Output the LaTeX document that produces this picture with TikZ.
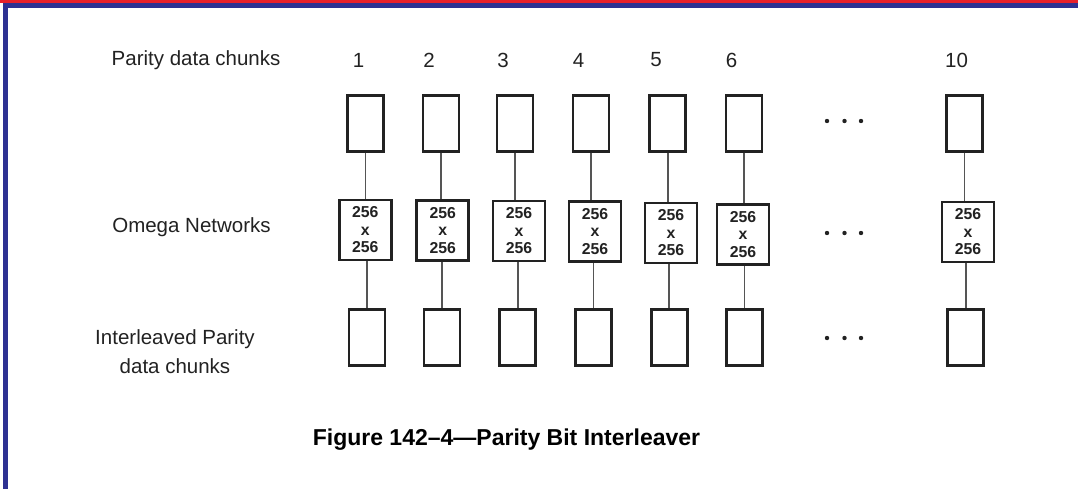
\documentclass[tikz,border=0pt]{standalone}
\usepackage{fontspec}
\setmainfont{Liberation Sans}
\definecolor{framered}{HTML}{E8202A}
\definecolor{frameblue}{HTML}{2E3192}
\definecolor{ink}{HTML}{222222}
\definecolor{wire}{HTML}{555555}
\begin{document}
\begin{tikzpicture}[x=1pt,y=-1pt,
  chunk/.style={draw=ink,line width=2.8pt,minimum width=36pt,minimum height=56pt,inner sep=0pt},
  omega/.style={draw=ink,line width=2.8pt,minimum width=52pt,minimum height=60pt,inner sep=0pt,
    align=center,font=\fontsize{15.8}{17.5}\selectfont\bfseries,text=ink},
  lbl/.style={font=\fontsize{20.5}{29}\selectfont,text=ink,inner sep=0pt},
  num/.style={font=\fontsize{20.5}{24}\selectfont,text=ink,inner sep=0pt},
  wireline/.style={draw=wire,line width=1.6pt},
  dot/.style={fill=ink,draw=none}]
\useasboundingbox (0,0) rectangle (1078,489);
\fill[white] (0,0) rectangle (1078,489);
% frame
\fill[framered] (0,0) rectangle (1078,3.3);
\fill[frameblue] (3.3,3.3) rectangle (1078,8.4);
\fill[frameblue] (3.3,3.3) rectangle (8.4,489);
% row labels
\node[lbl,anchor=west] (lp) at (111.5,60) {Parity data chunks};
\node[lbl] (lo) at (191.5,227) {Omega Networks};
\node[lbl,align=center] (li) at (175,351.5) {Interleaved Parity\\data chunks};
% column numbers
\node[num] (n1) at (358.5,60) {1};
\node[num] (n2) at (429,60) {2};
\node[num] (n3) at (503,60) {3};
\node[num] (n4) at (578.5,60) {4};
\node[num] (n5) at (656,60) {5};
\node[num] (n6) at (731.5,60) {6};
\node[num] (n10) at (956.5,60) {10};
% top chunks
\node[chunk] (t1) at (365.3,123.3) {};
\node[chunk] (t2) at (441,123.3) {};
\node[chunk] (t3) at (515,123.3) {};
\node[chunk] (t4) at (591,123.3) {};
\node[chunk] (t5) at (667.7,123.3) {};
\node[chunk] (t6) at (744,123.3) {};
\node[chunk] (t10) at (964.3,123.3) {};
% omega networks
\node[omega] (m1) at (365.3,230) {256\\x\\256};
\node[omega] (m2) at (442.7,230.5) {256\\x\\256};
\node[omega] (m3) at (519,231) {256\\x\\256};
\node[omega] (m4) at (595,231.5) {256\\x\\256};
\node[omega] (m5) at (671,233) {256\\x\\256};
\node[omega] (m6) at (743,234.3) {256\\x\\256};
\node[omega] (m10) at (968,232) {256\\x\\256};
% bottom chunks
\node[chunk] (b1) at (367,337.3) {};
\node[chunk] (b2) at (442,337.3) {};
\node[chunk] (b3) at (517.7,337.3) {};
\node[chunk] (b4) at (593.3,337.3) {};
\node[chunk] (b5) at (669.2,337.3) {};
\node[chunk] (b6) at (744.5,337.3) {};
\node[chunk] (b10) at (965.7,337.3) {};
% connectors
\foreach \k in {1,2,3,4,5,6,10}{
  \draw[wireline] (t\k.south) -- (t\k.south |- m\k.north);
  \draw[wireline] (b\k.north) -- (b\k.north |- m\k.south);
}
% ellipses
\foreach \y in {121,233,338}{
  \foreach \x in {827,844.5,861}{
    \fill[dot] (\x,\y) circle (2.2pt);
  }
}
% caption
\node[font=\fontsize{23}{26}\selectfont\bfseries,text=black,inner sep=0pt] (cap) at (506.5,440) {Figure 142–4—Parity Bit Interleaver};
\end{tikzpicture}
\end{document}
